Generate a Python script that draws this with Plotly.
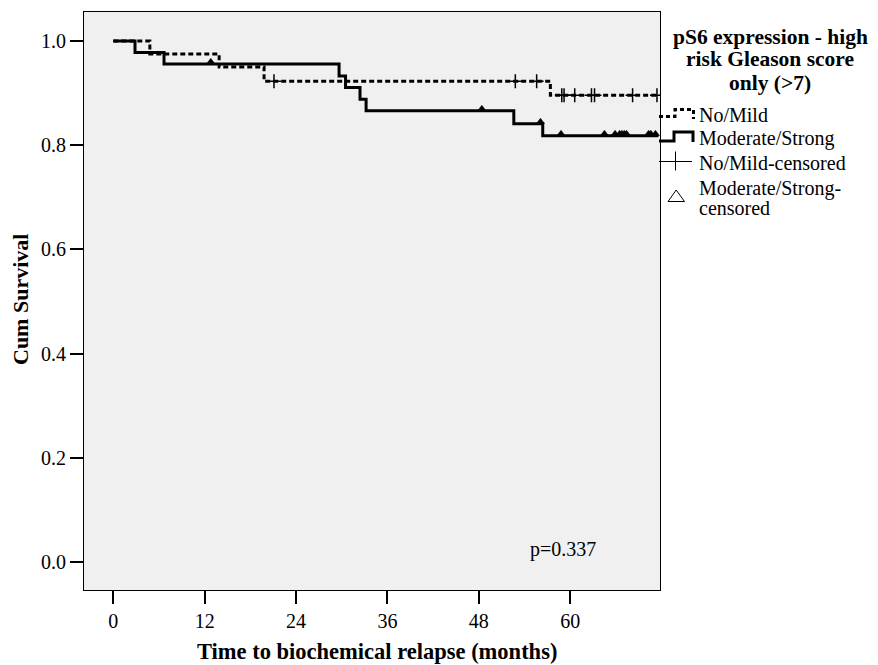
import plotly.graph_objects as go

# ---------------- data ----------------
x_ticks = [0, 12, 24, 36, 48, 60]
y_ticks = [0.0, 0.2, 0.4, 0.6, 0.8, 1.0]

# No/Mild group (dashed)
nm_times = [0, 4.8, 13.9, 19.8, 57.4]
nm_surv = [1.0, 0.975, 0.950, 0.923, 0.896]
nm_end = 71.6
nm_cens = [21.1, 52.8, 55.6, 58.9, 59.2, 60.6, 62.8, 63.2, 68.2, 71.4]

# Moderate/Strong group (solid)
ms_times = [0, 2.85, 6.66, 29.65, 30.5, 32.4, 33.2, 52.6, 56.4]
ms_surv = [1.0, 0.978, 0.956, 0.933, 0.911, 0.888, 0.866, 0.841, 0.818]
ms_end = 71.6
ms_cens = [12.8, 48.4, 56.1, 58.8, 64.5, 65.9, 66.5, 66.8, 67.1, 67.4, 70.3, 70.6, 71.2]

legend_title = ["pS6 expression - high", "risk Gleason score", "only (>7)"]
legend_labels = ["No/Mild", "Moderate/Strong", "No/Mild-censored", "Moderate/Strong-", "censored"]
p_text = "p=0.337"

SERIF = "Liberation Serif, Times New Roman, serif"


def surv_at(times, surv, t):
    v = surv[0]
    for tt, s in zip(times, surv):
        if tt <= t:
            v = s
    return v


fig = go.Figure()

# step curves
fig.add_trace(go.Scatter(
    x=nm_times + [nm_end], y=nm_surv + [nm_surv[-1]],
    mode="lines", line=dict(shape="hv", color="black", width=3, dash="5px,3px"),
    showlegend=False, hoverinfo="skip"))
fig.add_trace(go.Scatter(
    x=ms_times + [ms_end], y=ms_surv + [ms_surv[-1]],
    mode="lines", line=dict(shape="hv", color="black", width=3),
    showlegend=False, hoverinfo="skip"))

# censor marks
fig.add_trace(go.Scatter(
    x=nm_cens, y=[surv_at(nm_times, nm_surv, t) for t in nm_cens],
    mode="markers",
    marker=dict(symbol="cross-thin-open", size=10, color="black",
                line=dict(color="black", width=1.5)),
    showlegend=False, hoverinfo="skip"))
fig.add_trace(go.Scatter(
    x=ms_cens, y=[surv_at(ms_times, ms_surv, t) + 0.004 for t in ms_cens],
    mode="markers",
    marker=dict(symbol="triangle-up", size=7, color="black", line=dict(color="black", width=0.5)),
    showlegend=False, hoverinfo="skip"))

# ---------------- layout ----------------
L, R, T, B = 84, 660, 12, 590
W, H = R - L, B - T


def px(x):
    return (x - L) / W


def py(y):
    return (B - y) / H


shapes = []
# No/Mild legend symbol (dashed step)
shapes.append(dict(type="path", xref="paper", yref="paper",
                   path=f"M {px(659)},{py(116.5)} L {px(675)},{py(116.5)} L {px(675)},{py(109.5)} "
                        f"L {px(693.5)},{py(109.5)} L {px(693.5)},{py(119)}",
                   line=dict(color="black", width=3, dash="4px,3px")))
# Moderate/Strong legend symbol (solid step)
shapes.append(dict(type="path", xref="paper", yref="paper",
                   path=f"M {px(659)},{py(141)} L {px(674)},{py(141)} L {px(674)},{py(132)} "
                        f"L {px(693)},{py(132)} L {px(693)},{py(142)}",
                   line=dict(color="black", width=3)))
# plus symbol
shapes.append(dict(type="line", xref="paper", yref="paper",
                   x0=px(659), x1=px(692), y0=py(161.5), y1=py(161.5),
                   line=dict(color="black", width=1)))
shapes.append(dict(type="line", xref="paper", yref="paper",
                   x0=px(675.5), x1=px(675.5), y0=py(151.5), y1=py(170.5),
                   line=dict(color="black", width=1)))
# open triangle
shapes.append(dict(type="path", xref="paper", yref="paper",
                   path=f"M {px(668)},{py(201.5)} L {px(684.5)},{py(201.5)} L {px(676.2)},{py(190)} Z",
                   line=dict(color="black", width=1)))

annotations = []
for txt, yy in zip(legend_title, [36.5, 59.5, 82.5]):
    annotations.append(dict(text=f"<b>{txt}</b>", xref="paper", yref="paper",
                            x=px(770), y=py(yy), xanchor="center", yanchor="middle",
                            showarrow=False, font=dict(family=SERIF, size=21.5, color="black")))
for txt, yy in zip(legend_labels, [115, 138, 162.5, 188, 208]):
    annotations.append(dict(text=txt, xref="paper", yref="paper",
                            x=px(697), y=py(yy), xanchor="left", yanchor="middle",
                            showarrow=False, font=dict(family=SERIF, size=20, color="black")))
# axis titles
annotations.append(dict(text="<b>Time to biochemical relapse (months)</b>", xref="paper", yref="paper",
                        x=px(377), y=py(651), xanchor="center", yanchor="middle",
                        showarrow=False, font=dict(family=SERIF, size=22.5, color="black")))
annotations.append(dict(text="<b>Cum Survival</b>", xref="paper", yref="paper",
                        x=px(20), y=py(300), xanchor="center", yanchor="middle", textangle=-90,
                        showarrow=False, font=dict(family=SERIF, size=22, color="black")))
# p-value
annotations.append(dict(text=p_text, xref="x", yref="y", x=59.0, y=0.025,
                        xanchor="center", yanchor="middle",
                        showarrow=False, font=dict(family=SERIF, size=20, color="black")))

fig.update_layout(
    width=878, height=665,
    margin=dict(l=L, r=878 - R, t=T, b=665 - B, pad=0),
    paper_bgcolor="white", plot_bgcolor="#F0F0F0",
    font=dict(family=SERIF, size=20, color="black"),
    shapes=shapes, annotations=annotations,
    showlegend=False,
)
fig.update_xaxes(range=[-3.85, 71.8], tickvals=x_ticks, ticktext=[str(v) for v in x_ticks],
                 ticks="outside", ticklen=13, tickwidth=2, tickcolor="black",
                 showline=True, linecolor="black", linewidth=1, mirror=True,
                 showgrid=False, zeroline=False, tickfont=dict(family=SERIF, size=20))
fig.update_yaxes(range=[-0.0537, 1.0557], tickvals=y_ticks, ticktext=[f"{v:.1f}" for v in y_ticks],
                 ticks="outside", ticklen=13, tickwidth=2, tickcolor="black",
                 showline=True, linecolor="black", linewidth=1, mirror=True,
                 showgrid=False, zeroline=False, tickfont=dict(family=SERIF, size=20))

fig.write_html("out.html")
